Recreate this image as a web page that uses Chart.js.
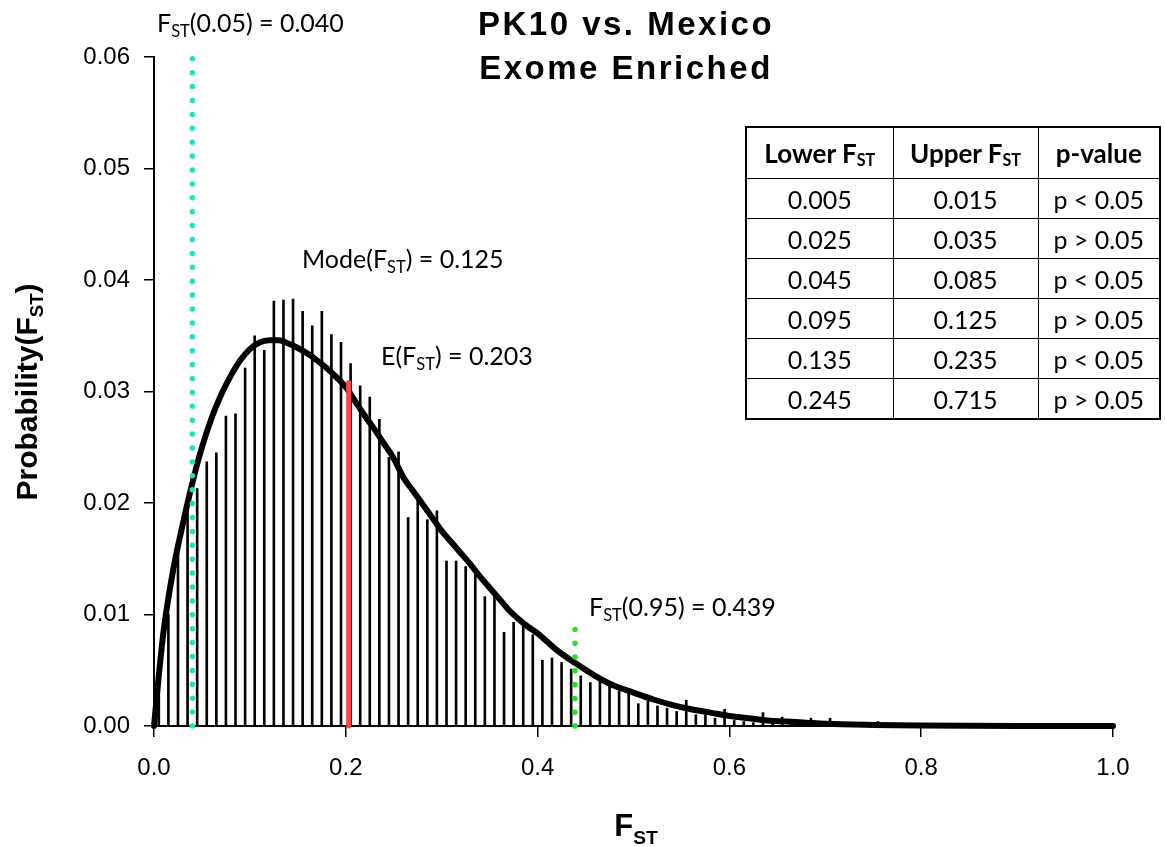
<!DOCTYPE html>
<html>
<head>
<meta charset="utf-8">
<script src="https://cdn.jsdelivr.net/npm/chart.js@4.4.1/dist/chart.umd.min.js"></script>
<style>
  html, body { margin: 0; padding: 0; background: #fff; }
  #wrap { position: relative; width: 1165px; height: 847px; overflow: hidden; }
  #c { position: absolute; left: 0; top: 0; }
  table.ptab {
    position: absolute; left: 745px; top: 126px; width: 414px;
    border-collapse: collapse; table-layout: fixed;
    font-family: Lato, "Open Sans", sans-serif; font-size: 25px; color: #000;
    border: 2.5px solid #000;
  }
  table.ptab th, table.ptab td { border: 1.5px solid #000; text-align: center; padding: 0; }
  table.ptab th { font-weight: bold; font-size: 26px; height: 50px; }
  table.ptab td { height: 39px; }
  table.ptab sub { font-size: 62%; vertical-align: -0.2em; line-height: 0; }
</style>
</head>
<body>
<div id="wrap">
  <canvas id="c" width="1165" height="847"></canvas>
  <table class="ptab" id="ptab">
    <colgroup><col style="width:147px"><col style="width:145px"><col style="width:122px"></colgroup>
    <thead><tr><th>Lower F<sub>ST</sub></th><th>Upper F<sub>ST</sub></th><th>p-value</th></tr></thead>
    <tbody id="ptbody"></tbody>
  </table>
</div>
<script>
// Histogram bins of F_ST (bin centres) and their probabilities
const binCenters = [
  0.005, 0.015, 0.025, 0.035, 0.045, 0.055, 0.065, 0.075, 0.085, 0.095,
  0.105, 0.115, 0.125, 0.135, 0.145, 0.155, 0.165, 0.175, 0.185, 0.195,
  0.205, 0.215, 0.225, 0.235, 0.245, 0.255, 0.265, 0.275, 0.285, 0.295,
  0.305, 0.315, 0.325, 0.335, 0.345, 0.355, 0.365, 0.375, 0.385, 0.395,
  0.405, 0.415, 0.425, 0.435, 0.445, 0.455, 0.465, 0.475, 0.485, 0.495,
  0.505, 0.515, 0.525, 0.535, 0.545, 0.555, 0.565, 0.575, 0.585, 0.595,
  0.605, 0.615, 0.625, 0.635, 0.645, 0.655, 0.665, 0.675, 0.685, 0.695,
  0.705, 0.715, 0.725, 0.735, 0.745, 0.755, 0.765, 0.775, 0.785, 0.795,
  0.805, 0.815, 0.825, 0.835, 0.845, 0.855, 0.865, 0.875, 0.885, 0.895,
  0.905, 0.915, 0.925, 0.935, 0.945, 0.955, 0.965, 0.975, 0.985, 0.995
];
const binProb = [
  0.0040, 0.0100, 0.0165, 0.0195, 0.0213, 0.0237, 0.0245, 0.0278, 0.0280, 0.0321,
  0.0350, 0.0337, 0.0381, 0.0382, 0.0383, 0.0372, 0.0359, 0.0372, 0.0351, 0.0344,
  0.0325, 0.0305, 0.0295, 0.0275, 0.0241, 0.0246, 0.0187, 0.0207, 0.0185, 0.0193,
  0.0148, 0.0148, 0.0143, 0.0141, 0.0116, 0.0119, 0.0084, 0.0093, 0.0091, 0.0082,
  0.0059, 0.0061, 0.0057, 0.0051, 0.0045, 0.0039, 0.0042, 0.0037, 0.0031, 0.0029,
  0.0020, 0.0022, 0.0018, 0.0016, 0.0013, 0.0023, 0.0010, 0.0010, 0.0007, 0.0015,
  0.0005, 0.0004, 0.0003, 0.0012, 0.0003, 0.0008, 0.0003, 0.0002, 0.0007, 0.0002,
  0.0007, 0.0002, 0.0001, 0.0001, 0.0001, 0.0004, 0.0001, 0.0001, 0.0000, 0.0000,
  0.0000, 0.0000, 0.0000, 0.0000, 0.0000, 0.0000, 0.0000, 0.0000, 0.0000, 0.0000,
  0.0000, 0.0000, 0.0000, 0.0000, 0.0000, 0.0000, 0.0000, 0.0000, 0.0000, 0.0000
];

// Fitted density curve
const curveX = [
  0.000, 0.005, 0.010, 0.020, 0.030, 0.040, 0.050, 0.060, 0.070, 0.080,
  0.090, 0.100, 0.110, 0.120, 0.130, 0.140, 0.150, 0.160, 0.170, 0.180,
  0.190, 0.200, 0.210, 0.220, 0.230, 0.240, 0.250, 0.260, 0.270, 0.280,
  0.290, 0.300, 0.310, 0.320, 0.330, 0.340, 0.350, 0.360, 0.370, 0.380,
  0.390, 0.400, 0.420, 0.440, 0.460, 0.480, 0.500, 0.520, 0.540, 0.560,
  0.580, 0.600, 0.620, 0.640, 0.660, 0.680, 0.700, 0.750, 0.800, 0.900, 1.000
];
const curveY = [
  0.0000, 0.0045, 0.0085, 0.0140, 0.0181, 0.0218, 0.0250, 0.0276, 0.0297, 0.0314,
  0.0328, 0.0338, 0.0344, 0.0346, 0.0346, 0.0343, 0.0339, 0.0334, 0.0328, 0.0321,
  0.0313, 0.0304, 0.0291, 0.0278, 0.0266, 0.0253, 0.0240, 0.0223, 0.0211, 0.0199,
  0.0187, 0.0175, 0.0165, 0.0155, 0.0145, 0.0134, 0.0124, 0.0114, 0.0104, 0.0096,
  0.0089, 0.0083, 0.0068, 0.0056, 0.0045, 0.0036, 0.0030, 0.0024, 0.0019, 0.0015,
  0.0012, 0.0009, 0.0007, 0.0005, 0.0004, 0.0003, 0.0002, 0.0001, 0.00005, 0.0000, 0.0000
];

// Summary statistics shown as marker lines
const q05Fst = 0.040;
const q95Fst = 0.439;
const meanFst = 0.203;
const modeFst = 0.125;
const q05LineTop = 0.06;
const q95LineTop = 0.0087;
const meanLineTop = 0.0308;

// Axis ticks
const xTicks = [0.0, 0.2, 0.4, 0.6, 0.8, 1.0];
const yTicks = [0.00, 0.01, 0.02, 0.03, 0.04, 0.05, 0.06];

// Bin test table
const tableLower = ['0.005', '0.025', '0.045', '0.095', '0.135', '0.245'];
const tableUpper = ['0.015', '0.035', '0.085', '0.125', '0.235', '0.715'];
const tablePValue = ['p < 0.05', 'p > 0.05', 'p < 0.05', 'p > 0.05', 'p < 0.05', 'p > 0.05'];

const tbody = document.getElementById('ptbody');
tableLower.forEach((lo, i) => {
  const tr = document.createElement('tr');
  [lo, tableUpper[i], tablePValue[i]].forEach(v => {
    const td = document.createElement('td');
    td.textContent = v;
    tr.appendChild(td);
  });
  tbody.appendChild(tr);
});

// Draw text made of normal and subscript runs
function richText(ctx, x, y, parts, size, family, weight, align, subScale, subDrop) {
  const sSize = size * (subScale || 0.62);
  const drop = size * (subDrop || 0.2);
  const fontOf = sub => `${weight} ${sub ? sSize : size}px ${family}`;
  let total = 0;
  parts.forEach(([t, s]) => { ctx.font = fontOf(s); total += ctx.measureText(t).width; });
  let cx = align === 'center' ? x - total / 2 : (align === 'right' ? x - total : x);
  ctx.textAlign = 'left';
  ctx.textBaseline = 'alphabetic';
  parts.forEach(([t, s]) => {
    ctx.font = fontOf(s);
    ctx.fillText(t, cx, s ? y + drop : y);
    cx += ctx.measureText(t).width;
  });
}

const labelsPlugin = {
  id: 'fstLabels',
  afterDraw(chart) {
    const ctx = chart.ctx;
    ctx.save();
    ctx.fillStyle = '#000';

    // title
    ctx.font = 'bold 33px "Liberation Sans", Arial, sans-serif';
    ctx.letterSpacing = '2.5px';
    ctx.textAlign = 'center';
    ctx.textBaseline = 'alphabetic';
    ctx.fillText('PK10 vs. Mexico', 626, 35);
    ctx.fillText('Exome Enriched', 626, 79);
    ctx.letterSpacing = '0px';

    // axis titles
    const ax = '"Liberation Sans", Arial, sans-serif';
    richText(ctx, 636, 836, [['F', false], ['ST', true]], 31, ax, 'bold', 'center', 0.62, 0.25);
    ctx.save();
    ctx.translate(37, 392);
    ctx.rotate(-Math.PI / 2);
    richText(ctx, 0, 0, [['Probability(F', false], ['ST', true], [')', false]], 30, ax, 'bold', 'center', 0.62, 0.2);
    ctx.restore();

    // statistic annotations
    const af = 'Lato, "Open Sans", sans-serif';
    richText(ctx, 157, 32, [['F', false], ['ST', true], ['(0.05) = ' + q05Fst.toFixed(3), false]], 25, af, 'normal', 'left', 0.66);
    richText(ctx, 302, 268, [['Mode(F', false], ['ST', true], [') = ' + modeFst.toFixed(3), false]], 25, af, 'normal', 'left', 0.66);
    richText(ctx, 381, 365, [['E(F', false], ['ST', true], [') = ' + meanFst.toFixed(3), false]], 25, af, 'normal', 'left', 0.66);
    richText(ctx, 589, 616, [['F', false], ['ST', true], ['(0.95) = ' + q95Fst.toFixed(3), false]], 25, af, 'normal', 'left', 0.66);
    ctx.restore();
  }
};

const axisFont = { family: '"Liberation Sans", Arial, sans-serif', size: 24 };

new Chart(document.getElementById('c'), {
  type: 'bar',
  data: {
    datasets: [
      {
        type: 'line', label: 'FST(0.05)',
        data: [{ x: q05Fst, y: 0 }, { x: q05Fst, y: q05LineTop }],
        borderColor: '#1EE4BE', borderWidth: 5.5, borderDash: [0, 13.9], borderCapStyle: 'round',
        pointRadius: 0, clip: false, order: 0
      },
      {
        type: 'line', label: 'FST(0.95)',
        data: [{ x: q95Fst, y: 0 }, { x: q95Fst, y: q95LineTop }],
        borderColor: '#22E422', borderWidth: 5.5, borderDash: [0, 13.8], borderCapStyle: 'round',
        pointRadius: 0, clip: false, order: 0
      },
      {
        type: 'line', label: 'E(FST)',
        data: [{ x: meanFst, y: 0 }, { x: meanFst, y: meanLineTop }],
        borderColor: '#FF4545', borderWidth: 5, borderCapStyle: 'round',
        pointRadius: 0, clip: false, order: 1
      },
      {
        type: 'line', label: 'Fitted density',
        data: curveX.map((x, i) => ({ x, y: curveY[i] })),
        borderColor: '#000', borderWidth: 6, borderCapStyle: 'round', borderJoinStyle: 'round',
        cubicInterpolationMode: 'monotone', pointRadius: 0, clip: false, order: 2
      },
      {
        type: 'bar', label: 'Probability',
        data: binCenters.map((x, i) => ({ x, y: binProb[i] })),
        backgroundColor: '#000', borderWidth: 0, barThickness: 2, order: 3
      }
    ]
  },
  options: {
    responsive: false,
    animation: false,
    devicePixelRatio: 1,
    layout: { padding: { left: 0, right: 52, top: 57, bottom: 0 } },
    plugins: { legend: { display: false }, tooltip: { enabled: false }, title: { display: false } },
    scales: {
      x: {
        type: 'linear', min: 0, max: 1, offset: false,
        afterBuildTicks: s => { s.ticks = xTicks.map(v => ({ value: v })); },
        afterFit: s => { s.height = 121; },
        ticks: { callback: v => v.toFixed(1), font: axisFont, color: '#000', padding: 17, maxRotation: 0, autoSkip: false },
        grid: { offset: false, drawOnChartArea: false, drawTicks: true, tickLength: 11, color: '#000', lineWidth: 1.5 },
        border: { display: true, color: '#000', width: 2 }
      },
      y: {
        min: 0, max: 0.06,
        afterBuildTicks: s => { s.ticks = yTicks.map(v => ({ value: v })); },
        afterFit: s => { s.width = 154; },
        ticks: { callback: v => v.toFixed(2), font: axisFont, color: '#000', padding: 14 },
        grid: { drawOnChartArea: false, drawTicks: true, tickLength: 10, color: '#000', lineWidth: 1.5 },
        border: { display: true, color: '#000', width: 2 }
      }
    }
  },
  plugins: [labelsPlugin]
});
</script>
</body>
</html>
